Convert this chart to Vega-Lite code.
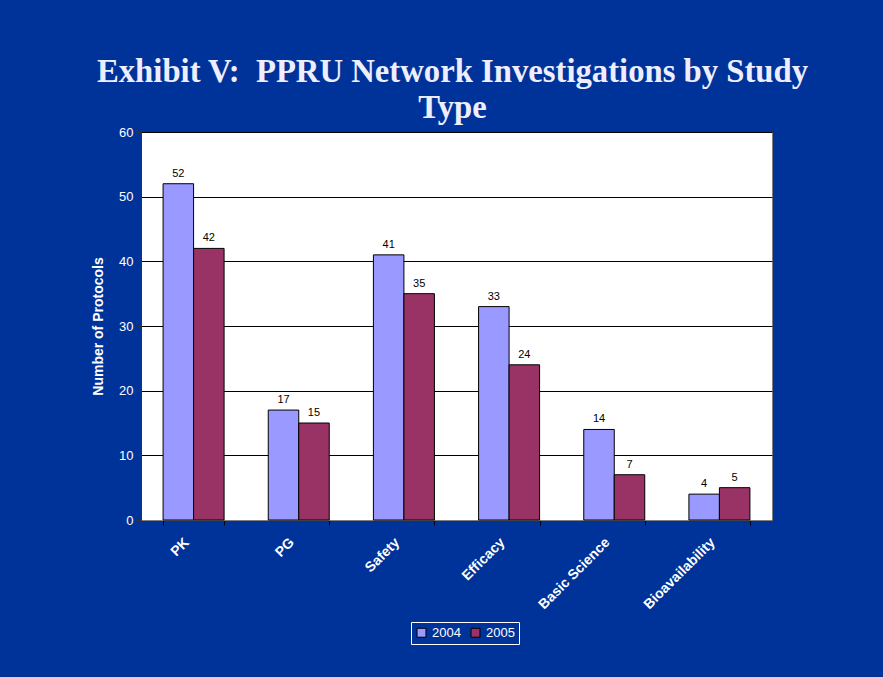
{
  "$schema": "https://vega.github.io/schema/vega-lite/v6.json",
  "width": 631,
  "height": 388,
  "autosize": {"type": "none"},
  "padding": {"left": 141, "top": 132, "right": 111, "bottom": 157},
  "background": "#003399",
  "title": {
    "text": ["Exhibit V:\u00a0 PPRU Network Investigations by Study", "Type"],
    "font": "Liberation Serif",
    "fontSize": 32.7,
    "fontWeight": "bold",
    "color": "#EEEEFF",
    "lineHeight": 36,
    "offset": 1,
    "anchor": "middle",
    "dx": -4
  },
  "data": {
    "values": [
      {"type": "PK", "year": "2004", "count": 52},
      {"type": "PK", "year": "2005", "count": 42},
      {"type": "PG", "year": "2004", "count": 17},
      {"type": "PG", "year": "2005", "count": 15},
      {"type": "Safety", "year": "2004", "count": 41},
      {"type": "Safety", "year": "2005", "count": 35},
      {"type": "Efficacy", "year": "2004", "count": 33},
      {"type": "Efficacy", "year": "2005", "count": 24},
      {"type": "Basic Science", "year": "2004", "count": 14},
      {"type": "Basic Science", "year": "2005", "count": 7},
      {"type": "Bioavailability", "year": "2004", "count": 4},
      {"type": "Bioavailability", "year": "2005", "count": 5}
    ]
  },
  "encoding": {
    "x": {
      "field": "type",
      "type": "nominal",
      "sort": null,
      "title": null,
      "scale": {"paddingInner": 0.42, "paddingOuter": 0.21},
      "axis": {
        "labelAngle": -45,
        "labelAlign": "right",
        "labelBaseline": "middle",
        "labelColor": "white",
        "labelFont": "Liberation Sans",
        "labelFontWeight": "bold",
        "labelFontSize": 14,
        "labelPadding": 15,
        "labelOffset": -7,
        "tickBand": "extent",
        "tickColor": "black",
        "tickSize": 5,
        "domainColor": "#808080",
        "grid": false
      }
    },
    "xOffset": {
      "field": "year",
      "type": "nominal",
      "scale": {"paddingInner": 0, "paddingOuter": 0}
    },
    "y": {
      "field": "count",
      "type": "quantitative",
      "title": "Number of Protocols",
      "scale": {"domain": [0, 60]},
      "axis": {
        "tickCount": 6,
        "labelColor": "white",
        "labelFont": "Liberation Sans",
        "labelFontSize": 13,
        "labelPadding": 3,
        "tickColor": "#333333",
        "tickSize": 5,
        "domainColor": "#333333",
        "gridColor": "black",
        "gridOpacity": 1,
        "titleColor": "white",
        "titleFont": "Liberation Sans",
        "titleFontSize": 14,
        "titleFontWeight": "bold",
        "titlePadding": 13
      }
    }
  },
  "layer": [
    {
      "mark": {"type": "bar", "stroke": "black", "strokeWidth": 1, "opacity": 1},
      "encoding": {
        "color": {
          "field": "year",
          "type": "nominal",
          "scale": {"domain": ["2004", "2005"], "range": ["#9999FF", "#993366"]},
          "legend": {
            "orient": "none",
            "legendX": 270,
            "legendY": 490,
            "direction": "horizontal",
            "title": null,
            "strokeColor": "white",
            "padding": 4,
            "labelColor": "white",
            "labelFont": "Liberation Sans",
            "labelFontSize": 13,
            "symbolType": "square",
            "symbolSize": 80,
            "symbolStrokeColor": "black",
            "symbolStrokeWidth": 1,
            "symbolOpacity": 1,
            "columnPadding": 8
          }
        }
      }
    },
    {
      "mark": {"type": "text", "baseline": "bottom", "dy": -5, "font": "Liberation Sans", "fontSize": 11, "color": "black"},
      "encoding": {"text": {"field": "count", "type": "quantitative"}}
    }
  ],
  "config": {"view": {"fill": "white", "stroke": "#808080"}}
}
